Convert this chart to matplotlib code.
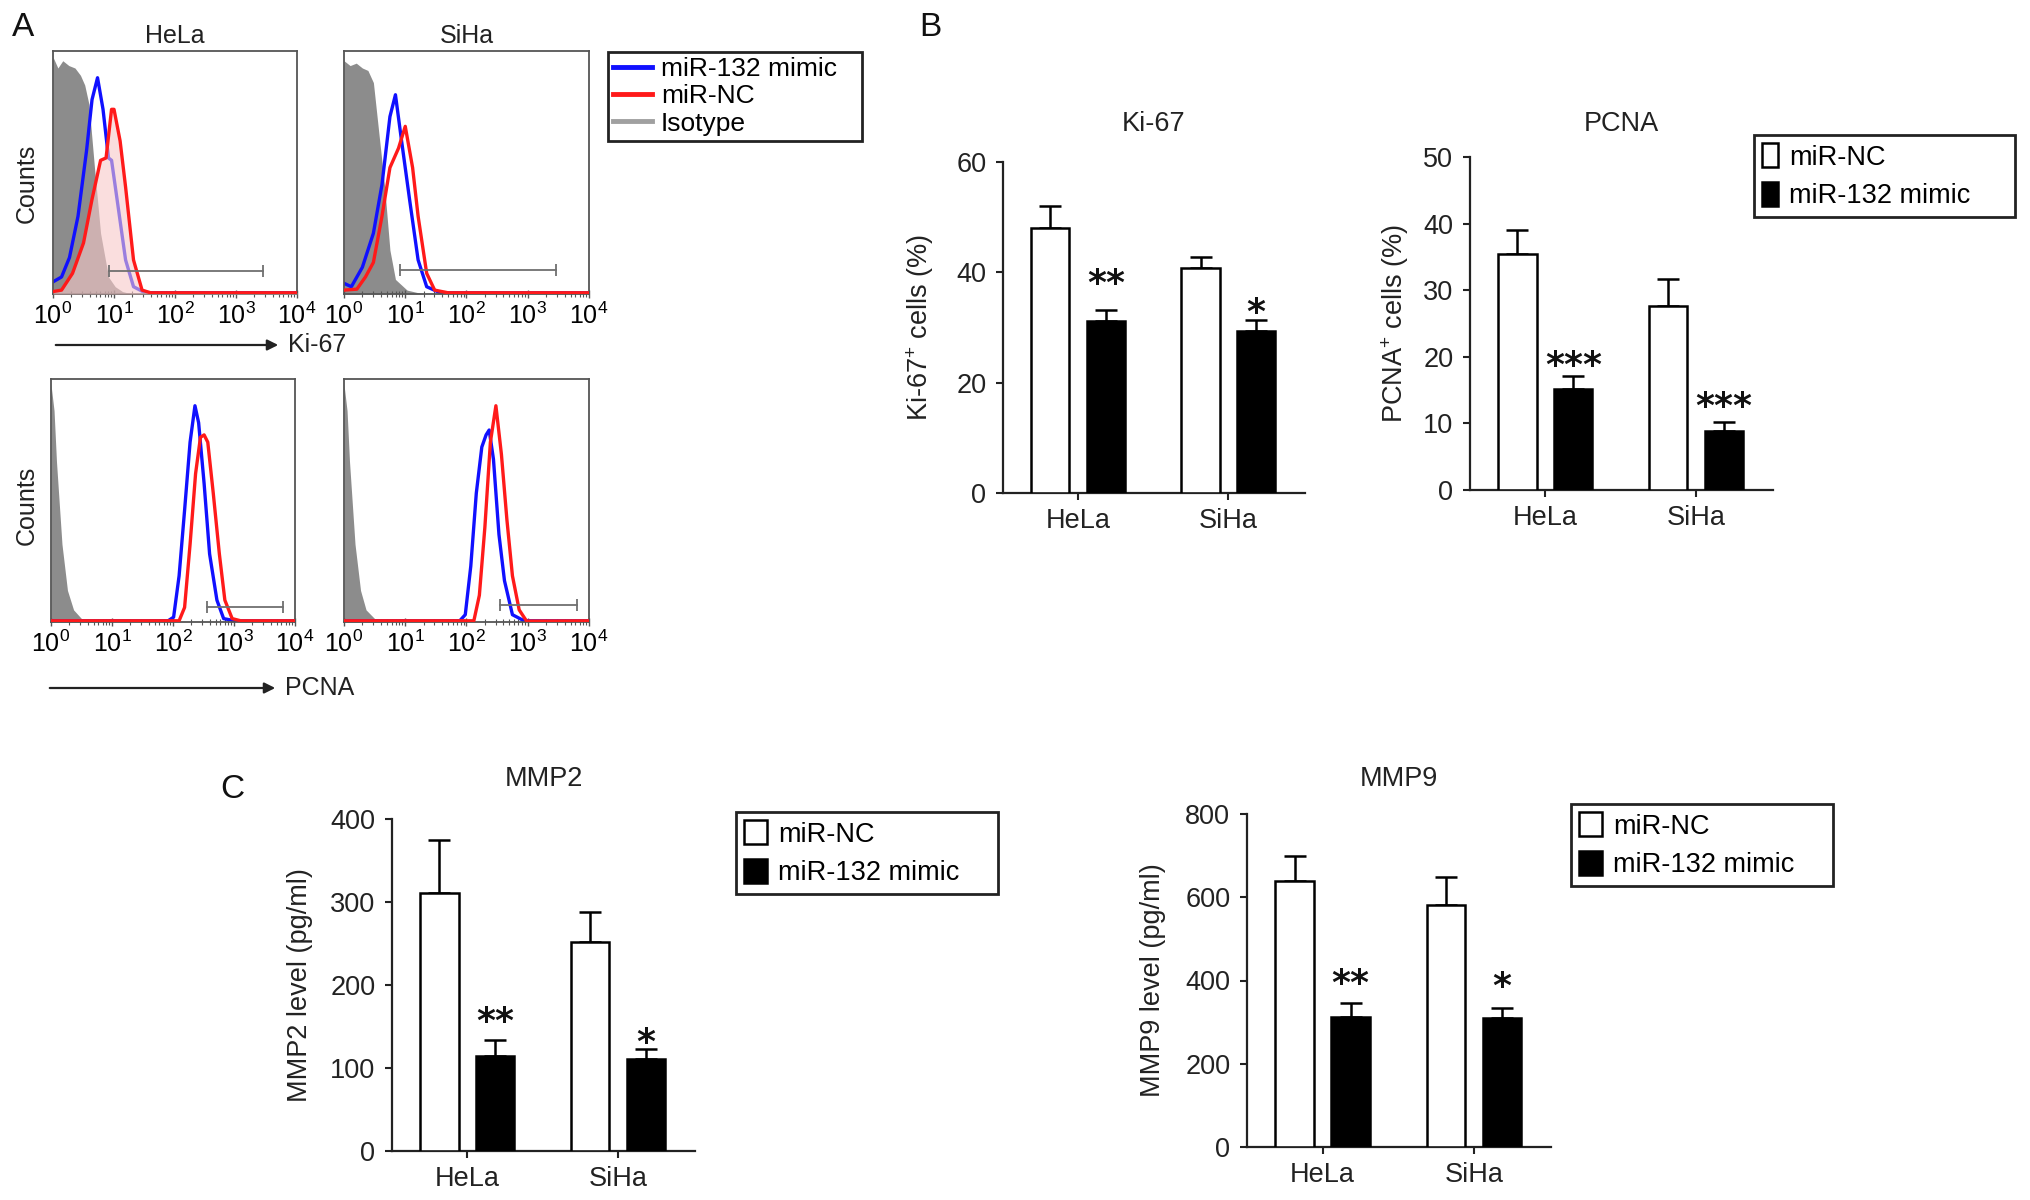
import matplotlib
matplotlib.use("Agg")
import matplotlib.pyplot as plt
from matplotlib.patches import Patch, FancyArrowPatch
from matplotlib.lines import Line2D
from matplotlib.ticker import LogLocator, LogFormatterSciNotation, NullFormatter
import numpy as np

plt.rcParams["font.family"] = ["Liberation Sans", "DejaVu Sans"]
plt.rcParams["mathtext.fontset"] = "custom"
plt.rcParams["mathtext.rm"] = "Liberation Sans"
plt.rcParams["mathtext.it"] = "Liberation Sans:italic"
plt.rcParams["mathtext.bf"] = "Liberation Sans:bold"

# ---- flow cytometry histograms (x = log10 intensity, y = relative counts) ----
ki67_hela_iso_x = [0.0, 0.08, 0.16, 0.26, 0.36, 0.45, 0.52, 0.59, 0.68, 0.78, 0.91, 1.02, 1.14, 1.3, 4.0]
ki67_hela_iso_y = [0.975, 0.93, 0.96, 0.94, 0.93, 0.90, 0.86, 0.78, 0.52, 0.25, 0.07, 0.03, 0.01, 0.0, 0.0]
ki67_hela_blue_x = [0.0, 0.14, 0.27, 0.41, 0.55, 0.64, 0.73, 0.82, 0.91, 0.96, 1.05, 1.19, 1.32, 1.51, 4.0]
ki67_hela_blue_y = [0.05, 0.07, 0.15, 0.32, 0.59, 0.80, 0.89, 0.76, 0.56, 0.55, 0.39, 0.14, 0.03, 0.005, 0.005]
ki67_hela_red_x = [0.0, 0.14, 0.32, 0.50, 0.64, 0.78, 0.87, 0.96, 1.00, 1.10, 1.19, 1.32, 1.46, 1.60, 4.0]
ki67_hela_red_y = [0.01, 0.016, 0.085, 0.21, 0.39, 0.55, 0.56, 0.76, 0.76, 0.63, 0.44, 0.14, 0.016, 0.005, 0.005]

ki67_siha_iso_x = [0.0, 0.1, 0.2, 0.3, 0.39, 0.48, 0.57, 0.66, 0.75, 0.84, 1.03, 1.3, 4.0]
ki67_siha_iso_y = [0.96, 0.94, 0.95, 0.93, 0.92, 0.87, 0.66, 0.45, 0.18, 0.06, 0.016, 0.0, 0.0]
ki67_siha_blue_x = [0.0, 0.12, 0.30, 0.48, 0.62, 0.75, 0.84, 0.94, 1.07, 1.21, 1.35, 1.57, 4.0]
ki67_siha_blue_y = [0.044, 0.03, 0.11, 0.25, 0.45, 0.73, 0.82, 0.63, 0.39, 0.14, 0.03, 0.005, 0.005]
ki67_siha_red_x = [0.0, 0.21, 0.35, 0.48, 0.62, 0.75, 0.89, 1.00, 1.12, 1.21, 1.35, 1.48, 1.7, 4.0]
ki67_siha_red_y = [0.016, 0.02, 0.07, 0.13, 0.32, 0.52, 0.60, 0.69, 0.52, 0.32, 0.085, 0.016, 0.005, 0.005]

pcna_hela_iso_x = [0.0, 0.05, 0.09, 0.18, 0.27, 0.37, 0.50, 0.73, 4.0]
pcna_hela_iso_y = [0.977, 0.87, 0.66, 0.32, 0.13, 0.05, 0.014, 0.0, 0.0]
pcna_hela_blue_x = [0.0, 1.92, 2.01, 2.10, 2.19, 2.28, 2.36, 2.42, 2.51, 2.60, 2.72, 2.83, 3.01, 4.0]
pcna_hela_blue_y = [0.005, 0.005, 0.02, 0.19, 0.46, 0.74, 0.89, 0.82, 0.57, 0.28, 0.09, 0.014, 0.005, 0.005]
pcna_hela_red_x = [0.0, 2.10, 2.19, 2.28, 2.37, 2.45, 2.51, 2.57, 2.66, 2.76, 2.85, 2.97, 3.11, 4.0]
pcna_hela_red_y = [0.005, 0.005, 0.06, 0.32, 0.61, 0.76, 0.77, 0.74, 0.53, 0.28, 0.09, 0.014, 0.005, 0.005]

pcna_siha_iso_x = [0.0, 0.05, 0.09, 0.18, 0.27, 0.36, 0.50, 0.75, 4.0]
pcna_siha_iso_y = [0.977, 0.87, 0.66, 0.32, 0.13, 0.05, 0.014, 0.0, 0.0]
pcna_siha_blue_x = [0.0, 1.89, 1.98, 2.07, 2.16, 2.25, 2.32, 2.37, 2.44, 2.53, 2.62, 2.75, 2.94, 4.0]
pcna_siha_blue_y = [0.005, 0.005, 0.03, 0.23, 0.53, 0.72, 0.77, 0.79, 0.67, 0.36, 0.17, 0.03, 0.005, 0.005]
pcna_siha_red_x = [0.0, 2.12, 2.21, 2.30, 2.39, 2.48, 2.57, 2.66, 2.75, 2.86, 2.98, 4.0]
pcna_siha_red_y = [0.005, 0.005, 0.11, 0.39, 0.74, 0.89, 0.69, 0.42, 0.19, 0.05, 0.004, 0.005]

# gates: (log10 start, log10 end, height)
gates = {
    "ki67_hela": (0.91, 3.45, 0.096),
    "ki67_siha": (0.92, 3.46, 0.10),
    "pcna_hela": (2.56, 3.81, 0.06),
    "pcna_siha": (2.55, 3.80, 0.07),
}

# ---- bar charts ----
cells = ["HeLa", "SiHa"]
groups = ["miR-NC", "miR-132 mimic"]

ki67_nc = [48.1, 40.7]
ki67_nc_err = [3.9, 2.1]
ki67_mimic = [31.1, 29.4]
ki67_mimic_err = [2.1, 2.0]
ki67_sig = ["**", "*"]

pcna_nc = [35.5, 27.7]
pcna_nc_err = [3.6, 4.0]
pcna_mimic = [15.1, 8.8]
pcna_mimic_err = [2.0, 1.4]
pcna_sig = ["***", "***"]

mmp2_nc = [311, 252]
mmp2_nc_err = [64, 36]
mmp2_mimic = [114, 111]
mmp2_mimic_err = [20, 12]
mmp2_sig = ["**", "*"]

mmp9_nc = [638, 581]
mmp9_nc_err = [61, 67]
mmp9_mimic = [312, 310]
mmp9_mimic_err = [34, 24]
mmp9_sig = ["**", "*"]

W, H = 2031, 1200
fig = plt.figure(figsize=(W / 100, H / 100), dpi=100)


def box(x0, y0, x1, y1):
    return [x0 / W, 1 - y1 / H, (x1 - x0) / W, (y1 - y0) / H]


def fx(x):
    return x / W


def fy(y):
    return 1 - y / H


def hist_panel(rect, iso, blue, red, gate, pink=False, title=None):
    ax = fig.add_axes(rect)
    ix, iy = 10 ** np.array(iso[0]), np.array(iso[1])
    ax.fill_between(ix, 0, iy, color="#8c8c8c", lw=0, zorder=1)
    bx, by = 10 ** np.array(blue[0]), np.array(blue[1])
    rx, ry = 10 ** np.array(red[0]), np.array(red[1])
    ax.plot(bx, by, color="#1010ff", lw=2.4, zorder=2)
    if pink:
        ax.fill_between(rx, 0, ry, color="#f7c9c9", alpha=0.6, lw=0, zorder=3)
    ax.plot(rx, ry, color="#ff1a1a", lw=2.4, zorder=4)
    g0, g1, gh = gate
    ax.plot([10 ** g0, 10 ** g1], [gh, gh], color="#707070", lw=1.3,
            marker="|", ms=9, mew=1.3, zorder=5)
    ax.set_xscale("log")
    ax.set_xlim(1, 1e4)
    ax.set_ylim(0, 1)
    ax.set_yticks([])
    ax.xaxis.set_major_locator(LogLocator(base=10, numticks=10))
    ax.xaxis.set_major_formatter(LogFormatterSciNotation(base=10))
    ax.xaxis.set_minor_locator(LogLocator(base=10, subs=np.arange(2, 10), numticks=20))
    ax.xaxis.set_minor_formatter(NullFormatter())
    for s in ax.spines.values():
        s.set_color("#555555")
        s.set_linewidth(1.3)
    ax.tick_params(axis="x", which="major", direction="inout", length=6,
                   width=1.0, color="#555555", labelsize=18, pad=3)
    ax.tick_params(axis="x", which="minor", direction="inout", length=4,
                   width=0.8, color="#555555")
    if title:
        ax.set_title(title, fontsize=18, pad=6, color="#222222")
    return ax


hist_panel(box(53, 51, 297, 294),
           (ki67_hela_iso_x, ki67_hela_iso_y), (ki67_hela_blue_x, ki67_hela_blue_y),
           (ki67_hela_red_x, ki67_hela_red_y), gates["ki67_hela"], pink=True, title="HeLa")
hist_panel(box(344, 51, 589, 294),
           (ki67_siha_iso_x, ki67_siha_iso_y), (ki67_siha_blue_x, ki67_siha_blue_y),
           (ki67_siha_red_x, ki67_siha_red_y), gates["ki67_siha"], title="SiHa")
hist_panel(box(51, 379, 295, 622),
           (pcna_hela_iso_x, pcna_hela_iso_y), (pcna_hela_blue_x, pcna_hela_blue_y),
           (pcna_hela_red_x, pcna_hela_red_y), gates["pcna_hela"])
hist_panel(box(344, 379, 589, 622),
           (pcna_siha_iso_x, pcna_siha_iso_y), (pcna_siha_blue_x, pcna_siha_blue_y),
           (pcna_siha_red_x, pcna_siha_red_y), gates["pcna_siha"])

for yc in (183, 505):
    fig.text(fx(27), fy(yc), "Counts", rotation=90, ha="center", va="center",
             fontsize=18, color="#222222")

for (xa, xb, yy, lab) in [(53, 281, 345, "Ki-67"), (47, 278, 688, "PCNA")]:
    fig.add_artist(FancyArrowPatch(
        (fx(xa), fy(yy)), (fx(xb), fy(yy)), transform=fig.transFigure,
        arrowstyle="-|>", mutation_scale=16, color="#222222", lw=1.6))
    fig.text(fx(xb + 7), fy(yy), lab, ha="left", va="center", fontsize=18, color="#222222")

hist_handles = [Line2D([], [], color="#1010ff", lw=3.5),
                Line2D([], [], color="#ff1a1a", lw=3.5),
                Line2D([], [], color="#a0a0a0", lw=3.5)]
leg = fig.legend(hist_handles, ["miR-132 mimic", "miR-NC", "Isotype"],
                 loc="upper left", bbox_to_anchor=box(608, 52, 862, 152), mode="expand",
                 borderaxespad=0, fontsize=19, handlelength=1.45, handletextpad=0.35,
                 labelspacing=0.12, borderpad=0.2, fancybox=False, framealpha=1,
                 edgecolor="#222222")
leg.get_frame().set_linewidth(2.0)


def bar_panel(rect, nc, nc_err, mimic, mimic_err, ymax, step, title, ylabel,
              sig, sig_px, title_pad, ylab_x):
    ax = fig.add_axes(rect)
    x = np.arange(len(cells))
    off, wid = 0.185, 0.255
    ax.bar(x - off, nc, wid, color="white", edgecolor="black", lw=1.8, zorder=3)
    ax.bar(x + off, mimic, wid, color="black", edgecolor="black", lw=1.8, zorder=3)
    ax.errorbar(x - off, nc, yerr=[np.zeros(len(nc)), nc_err], fmt="none",
                ecolor="black", elinewidth=1.8, capsize=8, capthick=1.8, zorder=2)
    ax.errorbar(x + off, mimic, yerr=[np.zeros(len(mimic)), mimic_err], fmt="none",
                ecolor="black", elinewidth=1.8, capsize=8, capthick=1.8, zorder=2)
    for i in range(len(cells)):
        top = mimic[i] + mimic_err[i]
        # star centre sits sig_px above the error cap; glyph centre ~0.58 em above baseline
        dy = (sig_px[i] - 0.58 * 36) / 1.389
        ax.annotate(sig[i], (x[i] + off, top), xytext=(0, dy), textcoords="offset points",
                    ha="center", va="baseline", fontsize=26, fontweight="bold",
                    family="DejaVu Sans", color="#111111")
    ax.set_xlim(-0.5, 1.51)
    ax.set_ylim(0, ymax)
    ax.set_yticks(np.arange(0, ymax + 1, step))
    ax.set_xticks(x, cells)
    for s in ("top", "right"):
        ax.spines[s].set_visible(False)
    for s in ("left", "bottom"):
        ax.spines[s].set_linewidth(1.6)
        ax.spines[s].set_color("#222222")
    ax.tick_params(axis="y", length=5, width=1.5, labelsize=19.5, pad=7, colors="#222222")
    ax.tick_params(axis="x", length=5, width=1.5, labelsize=19.5, pad=6, colors="#222222")
    ax.set_title(title, fontsize=19.5, pad=title_pad, color="#222222")
    ax.set_ylabel(ylabel, fontsize=19.5, color="#222222")
    ax.yaxis.set_label_coords(ylab_x, 0.5)
    ax.yaxis.label.set_va("center")
    return ax


bar_panel(box(1003, 162, 1305, 493), ki67_nc, ki67_nc_err, ki67_mimic, ki67_mimic_err,
          60, 20, "Ki-67", "Ki-67$^{+}$ cells (%)", ki67_sig, [37, 18], 22, -0.275)
bar_panel(box(1470, 157, 1773, 490), pcna_nc, pcna_nc_err, pcna_mimic, pcna_mimic_err,
          50, 10, "PCNA", "PCNA$^{+}$ cells (%)", pcna_sig, [21, 26], 19, -0.248)
bar_panel(box(392, 819, 695, 1151), mmp2_nc, mmp2_nc_err, mmp2_mimic, mmp2_mimic_err,
          400, 100, "MMP2", "MMP2 level (pg/ml)", mmp2_sig, [29, 17], 24, -0.304)
bar_panel(box(1247, 814, 1551, 1147), mmp9_nc, mmp9_nc_err, mmp9_mimic, mmp9_mimic_err,
          800, 200, "MMP9", "MMP9 level (pg/ml)", mmp9_sig, [30, 32], 20, -0.31)

bar_handles = [Patch(facecolor="white", edgecolor="black", lw=1.8),
               Patch(facecolor="black", edgecolor="black", lw=1.8)]
for rect, hl, hh in [(box(1754, 135, 2015, 222), 0.6, 1.0),
                     (box(736, 812, 998, 898), 0.85, 1.0),
                     (box(1571, 804, 1833, 890), 0.85, 1.0)]:
    lg = fig.legend(bar_handles, groups, loc="upper left", bbox_to_anchor=rect,
                    mode="expand", borderaxespad=0, fontsize=19.5, handlelength=hl,
                    handleheight=hh, handletextpad=0.4, labelspacing=0.42,
                    borderpad=0.3, fancybox=False, framealpha=1, edgecolor="#222222")
    lg.get_frame().set_linewidth(2.0)

for lab, x, y in [("A", 23, 28), ("B", 930, 28), ("C", 232, 790)]:
    fig.text(fx(x), fy(y), lab, ha="center", va="center", fontsize=24, color="#111111")

fig.savefig("out.png", dpi=100, facecolor="white")
